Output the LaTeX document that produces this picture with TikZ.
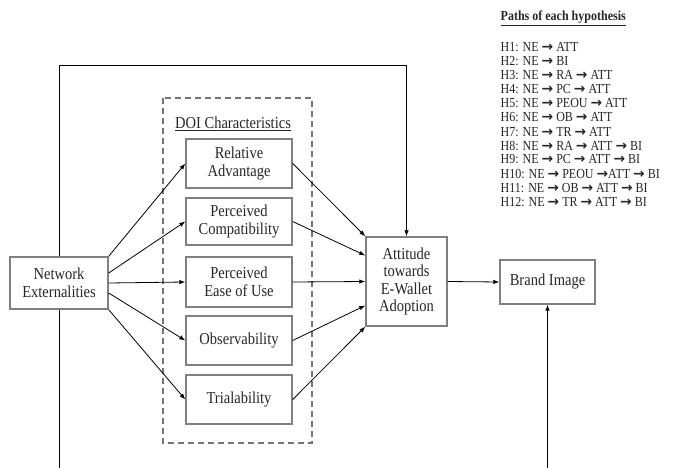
\documentclass[tikz,border=0pt]{standalone}
\usepackage{fontspec}
\setmainfont{Liberation Serif}[FakeStretch=0.87]
\newfontfamily\arrowfont{DejaVu Sans}
\newcommand{\pathto}{{\arrowfont\bfseries →}}
\usetikzlibrary{arrows.meta}
\tikzstyle{every node}=[inner sep=0pt,text=black!85,font=\fontsize{16.7}{17.5}\selectfont]
\tikzstyle{box}=[draw=black!50,line width=1.4pt,align=center,fill=white,minimum width=106pt]
\tikzstyle{link}=[-{Latex[length=6pt,width=4.5pt]},line width=0.8pt]
\tikzstyle{hyp}=[anchor=base west,font=\fontsize{13.8}{14}\selectfont]

\begin{document}
\begin{tikzpicture}[x=1pt,y=-1pt]
	\useasboundingbox (0,0) rectangle (677,468);
	\draw[black!55,line width=1.2pt,dash pattern=on 6pt off 4pt] (163,98) rectangle (312,443);
	\node (doi) at (233,124) {\underline{DOI Characteristics}};
	\node (ne) [box,minimum width=98pt,minimum height=52pt] at (59,283) {Network\\Externalities};
	\node (ra) [box,minimum height=49pt] at (239,163.5) {Relative\\Advantage};
	\node (pc) [box,minimum height=47pt] at (239,221.5) {Perceived\\Compatibility};
	\node (peou) [box,minimum height=50pt] at (239,282) {Perceived\\Ease of Use};
	\node (ob) [box,minimum height=49pt] at (239,340.5) {Observability};
	\node (tr) [box,minimum height=49pt] at (239,399.5) {Trialability};
	\node (att) [box,minimum width=81pt,minimum height=89pt] at (406.5,281.5) {Attitude\\towards\\E-Wallet\\Adoption};
	\node (bi) [box,minimum width=95pt,minimum height=44pt] at (547.5,282) {Brand Image};
	\coordinate (top1) at (59,65);
	\coordinate (top2) at (406.5,65);
	\coordinate (bot1) at (59,468);
	\coordinate (bot2) at (547.5,468);
	\draw[line width=0.8pt] (ne.north) -- (top1) -- (top2);
	\draw[link] (top2) -- (att.north);
	\draw[line width=0.8pt] (ne.south) -- (bot1);
	\draw[link] (bot2) -- (bi.south);
	\draw[link] (ne.north east) -- (ra.west);
	\draw[link] ([yshift=10pt]ne.east) -- (pc.west);
	\draw[link] (ne.east) -- (peou.west);
	\draw[link] ([yshift=-10pt]ne.east) -- (ob.west);
	\draw[link] (ne.south east) -- (tr.west);
	\draw[link] (ra.east) -- (att.north west);
	\draw[link] (pc.east) -- ([yshift=26pt]att.west);
	\draw[link] (peou.east) -- (att.west);
	\draw[link] (ob.east) -- ([yshift=-24pt]att.west);
	\draw[link] (tr.east) -- (att.south west);
	\draw[link] (att.east) -- (bi.west);
	\node (title) [hyp] at (500.5,21) {\textbf{\underline{Paths of each hypothesis}}};
	\foreach \txt [count=\i] in {H1: NE \pathto{} ATT,H2: NE \pathto{} BI,H3: NE \pathto{} RA \pathto{} ATT,H4: NE \pathto{} PC \pathto{} ATT,H5: NE \pathto{} PEOU \pathto{} ATT,H6: NE \pathto{} OB \pathto{} ATT,H7: NE \pathto{} TR \pathto{} ATT,H8: NE \pathto{} RA \pathto{} ATT \pathto{} BI,H9: NE \pathto{} PC \pathto{} ATT \pathto{} BI,H10: NE \pathto{} PEOU \pathto{}ATT \pathto{} BI,H11: NE \pathto{} OB \pathto{} ATT \pathto{} BI,H12: NE \pathto{} TR \pathto{} ATT \pathto{} BI}
		\node (h\i) [hyp] at (500.5,{52+14*(\i-1)}) {\txt};
\end{tikzpicture}
\end{document}
